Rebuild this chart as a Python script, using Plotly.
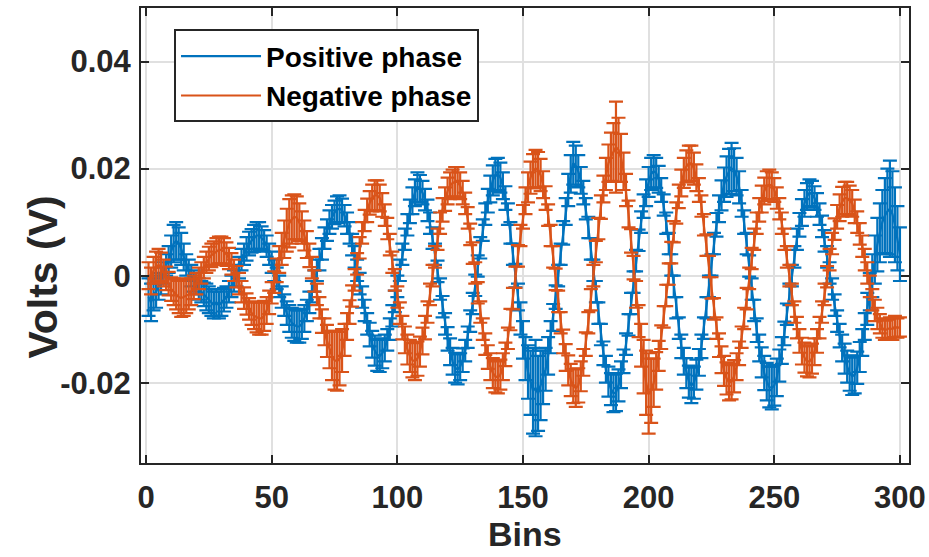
import plotly.graph_objects as go

bins = list(range(1, 301))

pos_phase = [
    -0.0040, -0.0050, -0.0035, -0.0030, -0.0020, -0.0010, 0.0005, 0.0020, 0.0030, 0.0045,
    0.0060, 0.0065, 0.0060, 0.0050, 0.0035, 0.0020, 0.0010, 0.0000, -0.0010, -0.0015,
    -0.0025, -0.0030, -0.0035, -0.0040, -0.0045, -0.0050, -0.0055, -0.0050, -0.0055, -0.0050,
    -0.0045, -0.0040, -0.0030, -0.0020, -0.0010, 0.0000, 0.0015, 0.0030, 0.0040, 0.0050,
    0.0060, 0.0065, 0.0070, 0.0075, 0.0075, 0.0070, 0.0065, 0.0055, 0.0040, 0.0025,
    0.0010, -0.0005, -0.0020, -0.0040, -0.0055, -0.0070, -0.0080, -0.0088, -0.0092, -0.0095,
    -0.0095, -0.0090, -0.0080, -0.0065, -0.0050, -0.0030, -0.0010, 0.0010, 0.0030, 0.0050,
    0.0070, 0.0085, 0.0100, 0.0110, 0.0118, 0.0123, 0.0125, 0.0122, 0.0112, 0.0098,
    0.0080, 0.0058, 0.0035, 0.0010, -0.0015, -0.0040, -0.0065, -0.0090, -0.0110, -0.0128,
    -0.0140, -0.0148, -0.0150, -0.0145, -0.0135, -0.0120, -0.0100, -0.0075, -0.0048, -0.0020,
    0.0010, 0.0040, 0.0068, 0.0095, 0.0120, 0.0140, 0.0155, 0.0165, 0.0163, 0.0155,
    0.0142, 0.0122, 0.0098, 0.0070, 0.0040, 0.0008, -0.0025, -0.0058, -0.0090, -0.0118,
    -0.0142, -0.0160, -0.0172, -0.0175, -0.0170, -0.0158, -0.0140, -0.0115, -0.0085, -0.0052,
    -0.0018, 0.0018, 0.0052, 0.0085, 0.0115, 0.0140, 0.0162, 0.0178, 0.0188, 0.0190,
    0.0183, 0.0168, 0.0145, 0.0115, 0.0080, 0.0040, 0.0000, -0.0040, -0.0080, -0.0120,
    -0.0155, -0.0180, -0.0200, -0.0215, -0.0210, -0.0220, -0.0205, -0.0190, -0.0175, -0.0150,
    -0.0115, -0.0078, -0.0040, 0.0000, 0.0040, 0.0080, 0.0120, 0.0160, 0.0190, 0.0210,
    0.0205, 0.0195, 0.0178, 0.0155, 0.0125, 0.0090, 0.0050, 0.0010, -0.0030, -0.0070,
    -0.0110, -0.0145, -0.0175, -0.0198, -0.0212, -0.0220, -0.0218, -0.0205, -0.0185, -0.0160,
    -0.0128, -0.0092, -0.0052, -0.0012, 0.0028, 0.0066, 0.0100, 0.0130, 0.0155, 0.0175,
    0.0190, 0.0195, 0.0192, 0.0180, 0.0160, 0.0132, 0.0098, 0.0060, 0.0020, -0.0020,
    -0.0060, -0.0098, -0.0132, -0.0160, -0.0182, -0.0198, -0.0205, -0.0200, -0.0185, -0.0162,
    -0.0132, -0.0098, -0.0060, -0.0020, 0.0020, 0.0060, 0.0095, 0.0125, 0.0150, 0.0170,
    0.0185, 0.0195, 0.0200, 0.0198, 0.0185, 0.0165, 0.0135, 0.0100, 0.0060, 0.0018,
    -0.0025, -0.0065, -0.0102, -0.0135, -0.0162, -0.0182, -0.0198, -0.0208, -0.0210, -0.0205,
    -0.0190, -0.0168, -0.0140, -0.0108, -0.0072, -0.0035, 0.0000, 0.0035, 0.0068, 0.0095,
    0.0118, 0.0135, 0.0148, 0.0155, 0.0152, 0.0145, 0.0132, 0.0115, 0.0092, 0.0065,
    0.0035, 0.0005, -0.0025, -0.0055, -0.0085, -0.0112, -0.0135, -0.0155, -0.0170, -0.0182,
    -0.0188, -0.0185, -0.0172, -0.0152, -0.0125, -0.0095, -0.0062, -0.0030, 0.0000, 0.0030,
    0.0058, 0.0080, 0.0100, 0.0112, 0.0120, 0.0125, 0.0115, 0.0095, 0.0070, 0.0040,
]

pos_err = [
    .0035, .0035, .0030, .0030, .0025, .0025, .0020, .0020, .0025, .0030,
    .0035, .0035, .0030, .0030, .0025, .0020, .0020, .0020, .0020, .0020,
    .0020, .0020, .0022, .0025, .0025, .0025, .0025, .0025, .0025, .0025,
    .0022, .0020, .0020, .0020, .0020, .0020, .0020, .0020, .0020, .0022,
    .0022, .0022, .0025, .0025, .0025, .0022, .0020, .0020, .0020, .0020,
    .0020, .0020, .0020, .0020, .0020, .0022, .0025, .0028, .0030, .0030,
    .0030, .0028, .0025, .0020, .0020, .0020, .0020, .0020, .0020, .0020,
    .0020, .0020, .0022, .0022, .0022, .0025, .0025, .0022, .0020, .0020,
    .0020, .0020, .0020, .0020, .0020, .0020, .0020, .0020, .0022, .0025,
    .0028, .0030, .0030, .0028, .0025, .0020, .0020, .0020, .0020, .0020,
    .0020, .0020, .0020, .0020, .0022, .0025, .0025, .0028, .0025, .0022,
    .0020, .0020, .0020, .0020, .0020, .0020, .0020, .0020, .0020, .0022,
    .0025, .0025, .0028, .0028, .0025, .0022, .0020, .0020, .0020, .0020,
    .0020, .0020, .0020, .0020, .0020, .0022, .0025, .0028, .0030, .0030,
    .0028, .0025, .0022, .0020, .0020, .0020, .0022, .0025, .0030, .0035,
    .0040, .0050, .0060, .0080, .0090, .0070, .0065, .0050, .0040, .0035,
    .0030, .0025, .0022, .0020, .0020, .0022, .0025, .0030, .0035, .0040,
    .0038, .0030, .0025, .0022, .0020, .0020, .0020, .0020, .0020, .0020,
    .0020, .0022, .0025, .0028, .0030, .0035, .0035, .0030, .0025, .0022,
    .0020, .0020, .0020, .0020, .0020, .0020, .0020, .0022, .0025, .0028,
    .0030, .0030, .0028, .0025, .0022, .0020, .0020, .0020, .0020, .0020,
    .0020, .0020, .0022, .0025, .0028, .0030, .0033, .0030, .0028, .0025,
    .0022, .0020, .0020, .0020, .0020, .0020, .0022, .0025, .0028, .0032,
    .0038, .0042, .0048, .0040, .0035, .0030, .0025, .0022, .0020, .0020,
    .0020, .0020, .0022, .0025, .0028, .0032, .0035, .0038, .0040, .0038,
    .0035, .0030, .0025, .0022, .0020, .0020, .0020, .0020, .0020, .0022,
    .0025, .0025, .0025, .0025, .0025, .0022, .0022, .0020, .0020, .0020,
    .0020, .0020, .0020, .0020, .0020, .0022, .0025, .0028, .0030, .0033,
    .0035, .0035, .0030, .0028, .0025, .0025, .0030, .0035, .0040, .0045,
    .0050, .0055, .0060, .0070, .0080, .0090, .0080, .0070, .0060, .0050,
]

neg_phase = [
    0.0000, -0.0010, 0.0010, 0.0015, 0.0020, 0.0015, 0.0005, -0.0005, -0.0015, -0.0025,
    -0.0030, -0.0035, -0.0040, -0.0042, -0.0040, -0.0038, -0.0035, -0.0030, -0.0022, -0.0015,
    -0.0005, 0.0005, 0.0015, 0.0025, 0.0032, 0.0038, 0.0042, 0.0045, 0.0048, 0.0048,
    0.0045, 0.0040, 0.0032, 0.0022, 0.0010, -0.0002, -0.0015, -0.0030, -0.0042, -0.0053,
    -0.0062, -0.0070, -0.0075, -0.0078, -0.0080, -0.0080, -0.0075, -0.0065, -0.0050, -0.0032,
    -0.0012, 0.0010, 0.0030, 0.0050, 0.0068, 0.0085, 0.0098, 0.0105, 0.0110, 0.0108,
    0.0100, 0.0090, 0.0075, 0.0058, 0.0038, 0.0015, -0.0010, -0.0035, -0.0060, -0.0085,
    -0.0105, -0.0122, -0.0138, -0.0150, -0.0158, -0.0160, -0.0155, -0.0140, -0.0120, -0.0095,
    -0.0068, -0.0038, -0.0008, 0.0022, 0.0052, 0.0080, 0.0103, 0.0122, 0.0136, 0.0145,
    0.0150, 0.0150, 0.0145, 0.0132, 0.0113, 0.0088, 0.0058, 0.0025, -0.0008, -0.0040,
    -0.0070, -0.0097, -0.0120, -0.0138, -0.0150, -0.0158, -0.0160, -0.0155, -0.0142, -0.0122,
    -0.0097, -0.0068, -0.0035, 0.0000, 0.0035, 0.0068, 0.0098, 0.0123, 0.0143, 0.0158,
    0.0168, 0.0173, 0.0175, 0.0175, 0.0168, 0.0155, 0.0135, 0.0108, 0.0077, 0.0042,
    0.0005, -0.0032, -0.0068, -0.0100, -0.0128, -0.0152, -0.0170, -0.0182, -0.0188, -0.0190,
    -0.0185, -0.0170, -0.0147, -0.0117, -0.0082, -0.0043, -0.0003, 0.0037, 0.0075, 0.0110,
    0.0140, 0.0165, 0.0183, 0.0195, 0.0200, 0.0198, 0.0188, 0.0170, 0.0145, 0.0113,
    0.0075, 0.0035, -0.0007, -0.0048, -0.0088, -0.0123, -0.0153, -0.0177, -0.0195, -0.0206,
    -0.0210, -0.0205, -0.0188, -0.0162, -0.0128, -0.0088, -0.0045, 0.0000, 0.0045, 0.0088,
    0.0128, 0.0162, 0.0190, 0.0210, 0.0222, 0.0230, 0.0240, 0.0235, 0.0220, 0.0195,
    0.0160, 0.0115, 0.0065, 0.0015, -0.0035, -0.0085, -0.0130, -0.0170, -0.0200, -0.0220,
    -0.0215, -0.0200, -0.0178, -0.0150, -0.0115, -0.0077, -0.0037, 0.0003, 0.0043, 0.0082,
    0.0117, 0.0148, 0.0173, 0.0192, 0.0204, 0.0210, 0.0210, 0.0200, 0.0183, 0.0160,
    0.0130, 0.0095, 0.0057, 0.0017, -0.0023, -0.0062, -0.0098, -0.0130, -0.0157, -0.0178,
    -0.0192, -0.0200, -0.0198, -0.0188, -0.0170, -0.0145, -0.0115, -0.0080, -0.0043, -0.0005,
    0.0032, 0.0068, 0.0098, 0.0123, 0.0143, 0.0158, 0.0167, 0.0170, 0.0168, 0.0160,
    0.0145, 0.0125, 0.0098, 0.0068, 0.0035, 0.0000, -0.0035, -0.0068, -0.0097, -0.0122,
    -0.0141, -0.0153, -0.0160, -0.0160, -0.0155, -0.0142, -0.0122, -0.0097, -0.0068, -0.0035,
    -0.0002, 0.0030, 0.0060, 0.0087, 0.0110, 0.0127, 0.0138, 0.0145, 0.0145, 0.0140,
    0.0135, 0.0120, 0.0100, 0.0078, 0.0055, 0.0030, 0.0005, -0.0020, -0.0045, -0.0065,
    -0.0080, -0.0090, -0.0098, -0.0102, -0.0100, -0.0098, -0.0100, -0.0095, -0.0098, -0.0096,
]

neg_err = [
    .0025, .0025, .0025, .0030, .0030, .0028, .0025, .0022, .0022, .0022,
    .0025, .0028, .0030, .0035, .0035, .0032, .0028, .0025, .0022, .0020,
    .0020, .0020, .0020, .0020, .0022, .0022, .0022, .0025, .0025, .0025,
    .0025, .0022, .0020, .0020, .0020, .0020, .0020, .0020, .0020, .0020,
    .0020, .0022, .0025, .0028, .0030, .0030, .0028, .0025, .0022, .0020,
    .0020, .0022, .0025, .0030, .0035, .0040, .0045, .0045, .0042, .0040,
    .0035, .0030, .0028, .0025, .0022, .0020, .0020, .0020, .0020, .0022,
    .0025, .0030, .0035, .0045, .0055, .0055, .0050, .0040, .0030, .0025,
    .0022, .0020, .0020, .0020, .0020, .0020, .0020, .0022, .0022, .0025,
    .0028, .0028, .0025, .0022, .0020, .0020, .0020, .0020, .0020, .0020,
    .0020, .0022, .0025, .0028, .0030, .0032, .0035, .0032, .0028, .0025,
    .0022, .0020, .0020, .0020, .0020, .0020, .0020, .0022, .0022, .0025,
    .0025, .0025, .0028, .0028, .0025, .0022, .0020, .0020, .0020, .0020,
    .0020, .0020, .0020, .0020, .0020, .0022, .0025, .0028, .0030, .0030,
    .0028, .0025, .0022, .0020, .0020, .0020, .0020, .0020, .0020, .0022,
    .0025, .0028, .0030, .0032, .0035, .0033, .0030, .0025, .0022, .0020,
    .0020, .0020, .0020, .0020, .0020, .0022, .0025, .0028, .0030, .0032,
    .0035, .0032, .0028, .0025, .0022, .0020, .0020, .0020, .0020, .0020,
    .0022, .0025, .0030, .0035, .0045, .0055, .0085, .0060, .0045, .0035,
    .0030, .0025, .0022, .0022, .0025, .0030, .0040, .0050, .0060, .0075,
    .0060, .0045, .0035, .0028, .0022, .0020, .0020, .0020, .0020, .0020,
    .0020, .0022, .0025, .0028, .0030, .0033, .0033, .0030, .0025, .0022,
    .0020, .0020, .0020, .0020, .0020, .0020, .0020, .0022, .0025, .0028,
    .0030, .0033, .0033, .0030, .0025, .0022, .0020, .0020, .0020, .0020,
    .0020, .0020, .0020, .0022, .0025, .0025, .0028, .0028, .0025, .0022,
    .0020, .0020, .0020, .0020, .0020, .0020, .0020, .0020, .0020, .0022,
    .0025, .0028, .0028, .0030, .0028, .0025, .0022, .0020, .0020, .0020,
    .0020, .0020, .0020, .0020, .0022, .0025, .0028, .0030, .0030, .0028,
    .0025, .0022, .0020, .0020, .0020, .0020, .0020, .0020, .0020, .0020,
    .0020, .0018, .0018, .0018, .0018, .0020, .0020, .0020, .0018, .0018,
]

x_ticks = [0, 50, 100, 150, 200, 250, 300]
y_ticks = [-0.02, 0, 0.02, 0.04]
y_tick_labels = ["-0.02", "0", "0.02", "0.04"]

BLUE = "#0072BD"
ORANGE = "#D95319"
AX = "#262626"
FONT = "Liberation Sans, Arial"

fig = go.Figure()
fig.add_trace(go.Scatter(
    x=bins, y=pos_phase, mode="lines", name="Positive phase",
    line=dict(color=BLUE, width=2.2),
    error_y=dict(type="data", array=pos_err, visible=True, color=BLUE, thickness=2.2, width=7),
))
fig.add_trace(go.Scatter(
    x=bins, y=neg_phase, mode="lines", name="Negative phase",
    line=dict(color=ORANGE, width=2.2),
    error_y=dict(type="data", array=neg_err, visible=True, color=ORANGE, thickness=2.2, width=7),
))

axis_common = dict(
    showline=True, linewidth=2, linecolor=AX, mirror="ticks",
    ticks="inside", ticklen=8, tickwidth=2, tickcolor=AX,
    showgrid=True, gridcolor="#e0e0e0", gridwidth=1.8, zeroline=False,
    automargin=False,
    tickfont=dict(family=FONT, size=31, color=AX, weight="bold"),
)

fig.update_xaxes(
    range=[-2, 303.6], tickvals=x_ticks, ticktext=[str(v) for v in x_ticks],
    ticklabelstandoff=6,
    **axis_common,
)
fig.update_yaxes(
    range=[-0.035, 0.05], tickvals=y_ticks, ticktext=y_tick_labels,
    ticklabelstandoff=2,
    **axis_common,
)

fig.update_layout(
    width=929, height=557,
    margin=dict(l=141, r=20, t=8, b=94),
    plot_bgcolor="white", paper_bgcolor="white",
    font=dict(family=FONT, color=AX, weight="bold"),
    showlegend=True,
    legend=dict(
        x=0.043, y=0.953, xanchor="left", yanchor="top",
        bgcolor="white", bordercolor=AX, borderwidth=2,
        font=dict(family=FONT, size=28, color="black", weight="bold"),
        itemwidth=80, tracegroupgap=0,
    ),
    annotations=[
        dict(
            text="Volts (V)", textangle=-90, showarrow=False,
            xref="paper", yref="paper", x=-0.128, y=0.409,
            xanchor="center", yanchor="middle",
            font=dict(family=FONT, size=41, color=AX, weight="bold"),
        ),
        dict(
            text="Bins", showarrow=False,
            xref="paper", yref="paper", x=0.5, y=-0.157,
            xanchor="center", yanchor="middle",
            font=dict(family=FONT, size=34, color=AX, weight="bold"),
        ),
    ],
)

fig.write_html("out.html")
